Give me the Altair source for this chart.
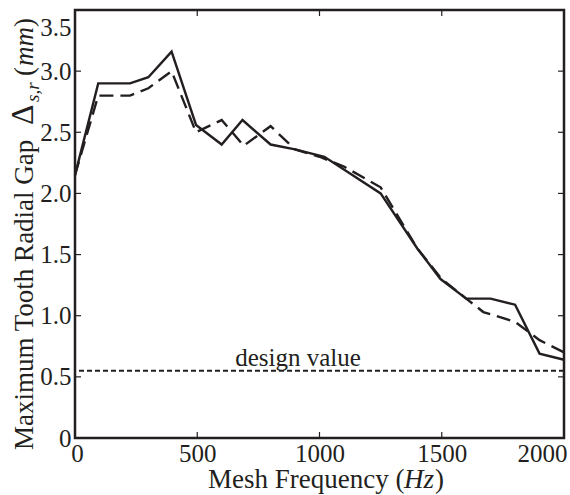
import altair as alt
import pandas as pd

# ---- data ----
freq_solid = [0, 95, 225, 300, 395, 495, 600, 685, 800, 900, 1020, 1250, 1400, 1495, 1600, 1700, 1800, 1900, 2000]
gap_solid = [2.15, 2.90, 2.90, 2.95, 3.16, 2.56, 2.40, 2.60, 2.40, 2.36, 2.30, 2.00, 1.55, 1.30, 1.14, 1.14, 1.09, 0.69, 0.64]

freq_dashed = [0, 95, 225, 300, 395, 495, 600, 690, 800, 900, 1000, 1100, 1250, 1400, 1500, 1600, 1670, 1800, 1900, 2000]
gap_dashed = [2.15, 2.80, 2.80, 2.86, 3.00, 2.50, 2.60, 2.39, 2.55, 2.36, 2.30, 2.22, 2.05, 1.55, 1.30, 1.14, 1.03, 0.95, 0.80, 0.70]

design_value = 0.55
design_label = "design value"
design_label_x = 912

x_ticks = [0, 500, 1000, 1500, 2000]
y_ticks = [0, 0.5, 1.0, 1.5, 2.0, 2.5, 3.0, 3.5]
inner_x_ticks = [500, 1000, 1500]
inner_y_ticks = [0.5, 1.0, 1.5, 2.0, 2.5, 3.0]

# ---- styling ----
W, H = 489, 428
FONT = "Liberation Serif"
INK = "#231f20"
TICK_FS = 25
TITLE_FS = 27

xscale = alt.Scale(domain=[0, 2000], nice=False, zero=False)
yscale = alt.Scale(domain=[0, 3.5], nice=False, zero=False)

xaxis = alt.Axis(
    values=x_ticks, title=None, grid=False, domain=False, ticks=False, tickSize=0,
    labelFont=FONT, labelFontSize=TICK_FS, labelColor=INK, labelPadding=3,
    labelOverlap=False, labelBaseline="top",
    labelExpr="format(datum.value, 'd')",
    labelAlign={"expr": "datum.value == 2000 ? 'right' : 'center'"},
    labelOffset={"expr": "datum.value == 2000 ? 3 : (datum.value == 0 ? 2 : 0)"},
)
yaxis = alt.Axis(
    values=y_ticks, title=None, grid=False, domain=False, ticks=False, tickSize=0,
    labelFont=FONT, labelFontSize=TICK_FS, labelColor=INK, labelPadding=4,
    labelOverlap=False, labelBaseline="middle",
    labelExpr="datum.value == 0 ? '0' : format(datum.value, '.1f')",
    labelOffset={"expr": "datum.value == 3.5 ? 17 : 0"},
)

solid_df = pd.DataFrame({"f": freq_solid, "g": gap_solid})
dashed_df = pd.DataFrame({"f": freq_dashed, "g": gap_dashed})
design_df = pd.DataFrame({"f": [design_label_x], "g": [design_value], "t": [design_label]})
xt_df = pd.DataFrame({"v": inner_x_ticks})
yt_df = pd.DataFrame({"v": inner_y_ticks})
one = pd.DataFrame({"a": [0]})

X = alt.X("f:Q", scale=xscale, axis=xaxis)
Y = alt.Y("g:Q", scale=yscale, axis=yaxis)

solid = alt.Chart(solid_df).mark_line(color=INK, strokeWidth=2.4).encode(x=X, y=Y)
dashed = alt.Chart(dashed_df).mark_line(color=INK, strokeWidth=2.4, strokeDash=[14, 7]).encode(x=X, y=Y)
design_rule = alt.Chart(design_df).mark_rule(color=INK, strokeWidth=2, strokeDash=[5, 3]).encode(y=Y)
design_text = alt.Chart(design_df).mark_text(
    font=FONT, fontSize=TICK_FS, color=INK, baseline="alphabetic", align="center", dy=-5
).encode(x=X, y=Y, text="t:N")

xt_bottom = alt.Chart(xt_df).mark_rule(color=INK, strokeWidth=1.2).encode(
    x=alt.X("v:Q", scale=xscale, axis=xaxis), y=alt.value(H), y2=alt.value(H - 6))
xt_top = alt.Chart(xt_df).mark_rule(color=INK, strokeWidth=1.2).encode(
    x=alt.X("v:Q", scale=xscale, axis=xaxis), y=alt.value(0), y2=alt.value(6))
yt_left = alt.Chart(yt_df).mark_rule(color=INK, strokeWidth=1.2).encode(
    y=alt.Y("v:Q", scale=yscale, axis=yaxis), x=alt.value(0), x2=alt.value(6))
yt_right = alt.Chart(yt_df).mark_rule(color=INK, strokeWidth=1.2).encode(
    y=alt.Y("v:Q", scale=yscale, axis=yaxis), x=alt.value(W), x2=alt.value(W - 6))


def txt(s, x, y, size=TITLE_FS, style="normal", align="left", angle=0):
    return alt.Chart(one).mark_text(
        text=s, font=FONT, fontSize=size, fontStyle=style, color=INK,
        align=align, baseline="alphabetic", angle=angle
    ).encode(x=alt.value(x), y=alt.value(y))


# x title: Mesh Frequency (Hz)
xt1 = txt("Mesh Frequency (", 133, 478)
xt2 = txt("Hz", 329, 478, style="italic")
xt3 = txt(")", 360, 478)

# y title: Maximum Tooth Radial Gap Δs,r (mm)  (rotated)
yb = -42
yt1 = txt("Maximum Tooth Radial Gap", yb, 440, angle=270)
yt2 = txt("\u0394", yb, 115, size=32, angle=270)
yt3 = txt("s,r", yb + 6, 92, size=19, style="italic", angle=270)
yt4 = txt("(", yb, 66, angle=270)
yt5 = txt("mm", yb, 56, style="italic", angle=270)
yt6 = txt(")", yb, 17, angle=270)

chart = alt.layer(
    design_rule, design_text, dashed, solid,
    xt_bottom, xt_top, yt_left, yt_right,
    xt1, xt2, xt3, yt1, yt2, yt3, yt4, yt5, yt6,
).properties(
    width=W, height=H,
    autosize=alt.AutoSizeParams(type="none"),
    padding={"left": 75, "top": 10, "right": 6, "bottom": 57},
    background="white",
).configure_view(stroke=INK, strokeWidth=2.5)

chart.save("out.html", embed_options={"renderer": "svg", "actions": False})
